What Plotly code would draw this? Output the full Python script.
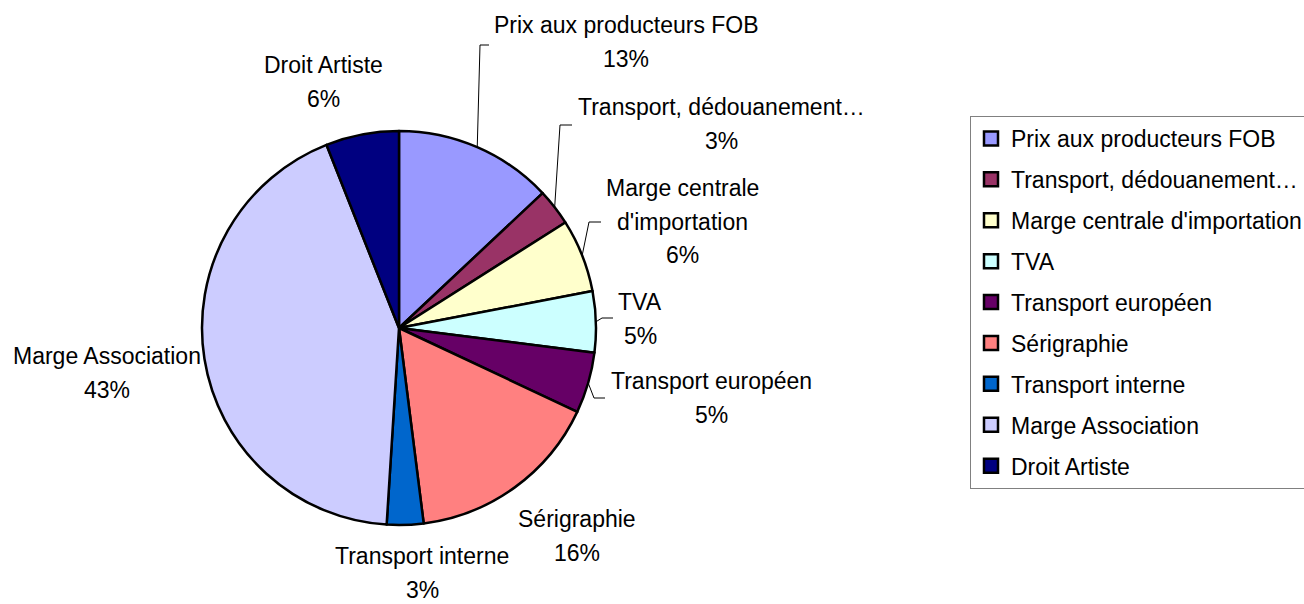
import math
import plotly.graph_objects as go

W, H = 1304, 604

labels = ["Prix aux producteurs FOB", "Transport, dédouanement…", "Marge centrale d'importation",
          "TVA", "Transport européen", "Sérigraphie", "Transport interne",
          "Marge Association", "Droit Artiste"]
values = [13, 3, 6, 5, 5, 16, 3, 43, 6]
colors = ["#9999FF", "#993366", "#FFFFCC", "#CCFFFF", "#660066", "#FF8080", "#0066CC", "#CCCCFF", "#000080"]

# label text lines and their positions in pixels (layout)
label_lines = [["Prix aux producteurs FOB"], ["Transport, dédouanement…"], ["Marge centrale", "d'importation"],
               ["TVA"], ["Transport européen"], ["Sérigraphie"], ["Transport interne"],
               ["Marge Association"], ["Droit Artiste"]]
label_x = [626, 721, 682, 640, 711, 577, 422, 107, 323]
label_y0 = [24, 106, 187, 301, 380, 518, 555, 355, 64]
line_gap = 33.5

# leader lines: slice index -> elbow and end point in pixels (layout)
leader_idx = [0, 1, 2, 3, 4]
leader_elbow = [(480, 45), (560, 125), (589, 222), (602, 318), (594, 398)]
leader_end = [(489, 45), (572, 125), (601, 222), (613, 318), (605, 398)]

def px(x):
    return x / W

def py(y):
    return 1 - y / H

fig = go.Figure()

cx, cy, r = 399, 328, 197
fig.add_trace(go.Pie(
    labels=labels, values=values, sort=False, direction="clockwise", rotation=0,
    marker=dict(colors=colors, line=dict(color="black", width=2.5)),
    textinfo="none", hoverinfo="label+percent", showlegend=False,
    domain=dict(x=[px(cx - r), px(cx + r)], y=[py(cy + r), py(cy - r)]),
))

total = sum(values)
fsz = 23
font = dict(family="Liberation Sans, Arial, sans-serif", size=fsz, color="black")

annotations = []
for i, lab in enumerate(labels):
    pct = f"{round(values[i] / total * 100)}%"
    lines = label_lines[i] + [pct]
    for j, t in enumerate(lines):
        annotations.append(dict(
            x=px(label_x[i]), y=py(label_y0[i] + j * line_gap + 1), xref="paper", yref="paper",
            text=t, showarrow=False, xanchor="center", yanchor="middle", font=font,
        ))

# leader lines start at the middle of their slice on the pie edge
cum = [sum(values[:k]) for k in range(len(values))]
shapes = []
for k, i in enumerate(leader_idx):
    theta = 2 * math.pi * (cum[i] + values[i] / 2) / total
    sx, sy = cx + r * math.sin(theta), cy - r * math.cos(theta)
    pts = [(sx, sy), leader_elbow[k], leader_end[k]]
    path = "M " + " L ".join(f"{px(a)},{py(b)}" for a, b in pts)
    shapes.append(dict(type="path", path=path, xref="paper", yref="paper",
                       line=dict(color="black", width=1)))

# legend entries
for i, lab in enumerate(labels):
    fig.add_trace(go.Scatter(
        x=[None], y=[None], mode="markers", name=lab, legendgroup=f"g{i}",
        marker=dict(symbol="square", size=14, color=colors[i], line=dict(color="black", width=2.5)),
        hoverinfo="skip",
    ))

fig.update_layout(
    width=W, height=H,
    margin=dict(l=0, r=0, t=0, b=0, autoexpand=False),
    paper_bgcolor="white", plot_bgcolor="white",
    xaxis=dict(visible=False), yaxis=dict(visible=False),
    annotations=annotations, shapes=shapes,
    showlegend=True,
    legend=dict(
        x=px(970), y=py(116), xanchor="left", yanchor="top",
        bordercolor="#808080", borderwidth=1, bgcolor="white",
        font=font, tracegroupgap=8, itemwidth=30, traceorder="grouped",
    ),
)

fig.write_html("out.html", config={"displayModeBar": False},
               post_script="document.body.style.margin='0';")
